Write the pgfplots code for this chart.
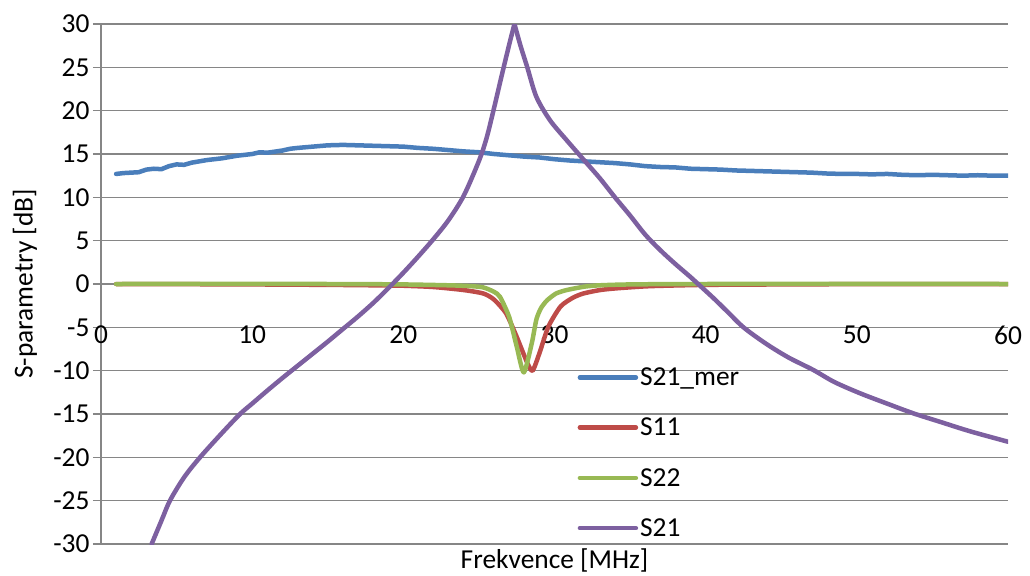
\documentclass[border=0pt]{standalone}
\usepackage{pgfplots}
\pgfplotsset{compat=1.18}
\usepackage{fontspec}
\setmainfont{Carlito}
\definecolor{cblue}{RGB}{74,126,187}
\definecolor{cred}{RGB}{190,75,72}
\definecolor{cgreen}{RGB}{152,185,84}
\definecolor{cpurple}{RGB}{125,96,160}
\definecolor{gridgray}{RGB}{134,134,134}
\newcommand{\cf}{\fontsize{27.5}{32}\selectfont}
\begin{document}
\begin{tikzpicture}
\path[use as bounding box] (-101bp,-32bp) rectangle (929bp,544bp);
\begin{axis}[
  at={(0,0)}, anchor=south west,
  scale only axis, width=907bp, height=520bp,
  xmin=0, xmax=60, ymin=-30, ymax=30,
  axis y line=left, axis x line=bottom,
  axis line style={-, draw=gridgray, line width=1.2bp},
  xtick={0,10,...,60}, ytick={-30,-25,...,30},
  ymajorgrids, grid style={draw=gridgray, line width=1.2bp},
  xtick style={draw=none}, ytick style={draw=gridgray, line width=1.2bp},
  tick align=outside, major tick length=8bp,
  /pgf/number format/assume math mode=true,
  tick label style={font=\cf},
  xticklabel style={anchor=center, yshift=217bp},
  label style={font=\cf},
  xlabel={Frekvence [MHz]},
  ylabel={S-parametry [dB]},
  xlabel style={at={(rel axis cs:0.5,0)}, anchor=north, yshift=-1bp},
  ylabel style={at={(rel axis cs:0,0.5)}, anchor=center, yshift=76bp},
  legend style={at={(rel axis cs:0.522,0.347)}, anchor=north west, draw=none, fill=none, font=\cf, row sep=27bp},
  legend cell align=left,
  legend image code/.code={\draw[#1, line cap=round] (0bp,0bp) -- (56bp,0bp);},
  every axis plot/.append style={line width=4.5bp, line join=round, line cap=round},
]
\addplot[cblue] coordinates {
(1,12.7)(1.5,12.8)(2,12.85)(2.5,12.9)(3,13.2)(3.5,13.3)(4,13.25)(4.5,13.6)(5,13.8)(5.5,13.75)
(6,14.0)(7,14.3)(8,14.5)(9,14.8)(10,15.0)(10.5,15.2)(11,15.15)(12,15.4)(12.5,15.6)(13,15.7)
(14,15.85)(15,16.0)(16,16.05)(17,16.0)(18,15.95)(19,15.9)(20,15.85)(21,15.7)(22,15.6)(23,15.45)
(24,15.3)(25,15.2)(26,15.0)(27,14.85)(28,14.7)(29,14.6)(30,14.4)(31,14.25)(32,14.15)(33,14.05)
(34,13.95)(35,13.8)(36,13.6)(37,13.5)(38,13.45)(39,13.3)(40,13.25)(41,13.2)(42,13.1)(43,13.05)
(44,13.0)(45,12.95)(46,12.9)(47,12.85)(48,12.75)(49,12.7)(50,12.7)(51,12.65)(52,12.7)(53,12.6)
(54,12.55)(55,12.6)(56,12.55)(57,12.5)(58,12.55)(59,12.5)(60,12.5)
};
\addlegendentry{S21\_mer}
\addplot[cred, smooth, tension=0.4] coordinates {
(1,0)(5,-0.02)(10,-0.05)(15,-0.1)(18,-0.15)(20,-0.2)(22,-0.35)(24,-0.7)(25.3,-1.1)(26,-1.8)
(26.8,-3.4)(27.5,-6.1)(28.2,-9.1)(28.55,-10)(29.0,-8)(29.6,-4.9)(30.4,-2.6)(31.2,-1.6)(31.9,-1.1)
(33,-0.7)(34.1,-0.5)(36.3,-0.25)(40,-0.1)(45,-0.05)(50,-0.02)(60,0)
};
\addlegendentry{S11}
\addplot[cgreen, smooth, tension=0.4] coordinates {
(1,0)(15,0)(20,-0.05)(23,-0.15)(24.5,-0.25)(25.3,-0.4)(26,-0.9)(26.4,-1.5)(27.0,-3.8)(27.5,-7.2)
(27.97,-10.2)(28.5,-6.8)(28.8,-4.1)(29.1,-2.8)(29.5,-1.9)(30.1,-1.1)(30.8,-0.7)(32,-0.3)(33,-0.15)
(35,-0.05)(40,0)(60,0)
};
\addlegendentry{S22}
\addplot[cpurple, smooth, tension=0.5] coordinates {
(3.35,-30)(4,-27.3)(4.56,-25)(5.5,-22.3)(6.55,-20)(8,-17.2)(9.2,-15)(10,-13.8)(11,-12.3)(12,-10.85)
(13,-9.45)(14,-8.05)(15,-6.65)(16,-5.2)(17,-3.75)(18,-2.2)(19,-0.5)(20,1.3)(21,3.2)(22,5.2)
(23,7.4)(24,10.2)(25,14.2)(25.5,16.8)(26,20.3)(26.5,24)(27,27.6)(27.35,30)
};
\addlegendentry{S21}
\addplot[cpurple, smooth, tension=0.5, forget plot] coordinates {
(27.35,30)(27.75,27.5)(28.2,25)(28.8,21.6)(29.7,18.9)(30.8,16.6)(32.1,14)(33,12.2)(34,10.0)
(35,7.9)(36,5.7)(37,3.9)(38,2.3)(39,0.8)(39.5,0)(40.5,-1.6)(41.5,-3.3)(42.5,-5)(44,-6.9)(45.5,-8.5)
(47.1,-9.9)(48.5,-11.3)(50.2,-12.6)(52,-13.8)(53.7,-14.9)(55.5,-15.9)(57.5,-17.0)(60,-18.2)
};
\end{axis}
\end{tikzpicture}
\end{document}
